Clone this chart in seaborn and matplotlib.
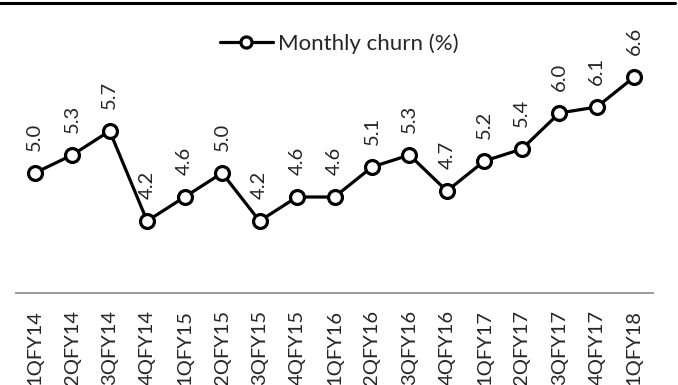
import pandas as pd
import matplotlib.pyplot as plt
import seaborn as sns
from matplotlib.lines import Line2D

# Quarter labels and monthly churn values
quarters = ['1QFY14', '2QFY14', '3QFY14', '4QFY14', '1QFY15', '2QFY15', '3QFY15',
            '4QFY15', '1QFY16', '2QFY16', '3QFY16', '4QFY16', '1QFY17', '2QFY17',
            '3QFY17', '4QFY17', '1QFY18']
churn = [5.0, 5.3, 5.7, 4.2, 4.6, 5.0, 4.2, 4.6, 4.6, 5.1, 5.3, 4.7, 5.2, 5.4,
         6.0, 6.1, 6.6]

df = pd.DataFrame({'Quarter': quarters, 'Churn': churn})

sns.set_style('white')
plt.rcParams['font.family'] = ['Lato', 'DejaVu Sans']

fig = plt.figure(figsize=(6.78, 3.85), dpi=100)
ax = fig.add_axes([16 / 678, 92 / 385, 637 / 678, 288 / 385])

sns.lineplot(x='Quarter', y='Churn', data=df, ax=ax, sort=False,
             color='black', linewidth=2.3, marker='o', markersize=10,
             markerfacecolor='white', markeredgecolor='black',
             markeredgewidth=2.3, label='Monthly churn (%)')

# Data labels above each point
for i, v in enumerate(churn):
    ax.annotate(f'{v:.1f}', (i, v), xytext=(0, 16), textcoords='offset points',
                rotation=90, ha='center', va='bottom', fontsize=14.5)

ax.set_xlim(-0.5, len(quarters) - 0.5)
ax.set_ylim(3.0, 7.8)
ax.set_xlabel('')
ax.set_ylabel('')
ax.set_yticks([])
ax.tick_params(axis='x', length=0, pad=12, labelsize=14.5, labelrotation=90)
for lbl in ax.get_xticklabels():
    lbl.set_va('top')

for s in ['top', 'right', 'left']:
    ax.spines[s].set_visible(False)
ax.spines['bottom'].set_color('#9a9a9a')
ax.spines['bottom'].set_linewidth(1.4)

ax.legend(loc='upper center', bbox_to_anchor=(0.5, 0.965), bbox_transform=fig.transFigure,
          frameon=False, fontsize=16, handlelength=2.4, handletextpad=0.2,
          markerscale=0.8)

# Top border line
fig.add_artist(Line2D([0, 675 / 678], [1 - 3 / 385, 1 - 3 / 385],
                      transform=fig.transFigure, color='black', linewidth=2.2))

fig.savefig('out.png', dpi=100)
